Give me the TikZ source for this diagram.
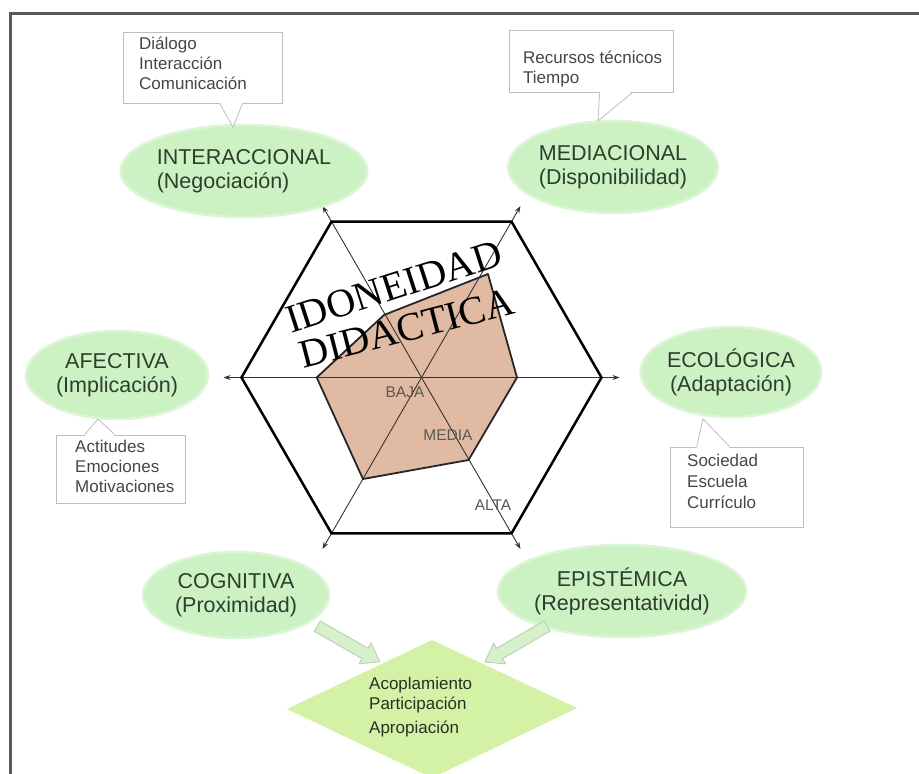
\documentclass[tikz,border=0pt]{standalone}
\usepackage{fontspec}
\setmainfont{Liberation Sans}
\newfontfamily\titlefont{Liberation Serif}
\usetikzlibrary{shapes.geometric,arrows.meta,calc}
\definecolor{ellgreen}{RGB}{204,242,196}
\definecolor{ellrim}{RGB}{220,245,214}
\definecolor{elltext}{RGB}{45,62,45}
\definecolor{dgreen}{RGB}{212,242,165}
\definecolor{boxgray}{RGB}{190,190,190}
\definecolor{txtgray}{RGB}{70,70,70}
\definecolor{peach}{RGB}{224,186,162}
\definecolor{framegray}{RGB}{90,90,90}
\definecolor{arrfill}{RGB}{214,240,204}
\definecolor{arrrim}{RGB}{178,208,170}
\tikzset{
  ell/.style={ellipse, fill=ellgreen, draw=ellrim, line width=2.5pt, inner sep=0pt,
    font=\fontsize{21.5}{24}\selectfont, text=elltext},
  cbox/.style={rectangle, draw=boxgray, line width=0.8pt, fill=white, inner sep=0pt},
  ctext/.style={anchor=north west, inner sep=0pt, align=left,
    font=\fontsize{17}{20}\selectfont, text=txtgray},
  axis/.style={line width=0.9pt, draw=black!80, -{Stealth[length=7pt,width=5pt]}},
  lvl/.style={font=\fontsize{15.5}{15.5}\selectfont, text=black!65, inner sep=0pt},
  ptr/.style={draw=boxgray, line width=0.8pt},
  blockarrow/.style={draw=arrrim, fill=arrfill, line width=0.8pt, line join=miter},
}
\begin{document}
\begin{tikzpicture}[x=1pt,y=-1pt]
\useasboundingbox (0,0) rectangle (919,774);
\fill[white] (0,0) rectangle (919,774);
% frame
\draw[framegray, line width=3pt] (10,774) -- (10,13) -- (919,13);

% radar centre
\coordinate (C) at (421.5,377.5);
% polygon of values
\coordinate (q1) at (316.7,377.5);
\coordinate (q2) at (384,315);
\coordinate (q3) at (488,274);
\coordinate (q4) at (517,377.5);
\coordinate (q5) at (468.5,460);
\coordinate (q6) at (363,479);
\fill[peach] (q1) -- (q2) -- (q3) -- (q4) -- (q5) -- (q6) -- cycle;

% axes
\foreach \a/\n in {0/e,60/se,120/sw,180/w,240/nw,300/ne}{
  \coordinate (ax\n) at ($(C)+(\a:198)$);
  \draw[axis] (C) -- (ax\n);
}
% polygon border
\draw[black!85, line width=1.8pt, line join=round] (q1) -- (q2) -- (q3) -- (q4) -- (q5) -- (q6) -- cycle;
% hexagon
\draw[black, line width=2.5pt, line join=miter]
  ($(C)+(0:180)$) -- ($(C)+(60:180)$) -- ($(C)+(120:180)$) -- ($(C)+(180:180)$)
  -- ($(C)+(240:180)$) -- ($(C)+(300:180)$) -- cycle;

% title
\node[anchor=base, rotate=18, inner sep=0pt, font=\titlefont\fontsize{40}{40}\selectfont] (tit1) at (398,299) {IDONEIDAD};
\node[anchor=base, rotate=14.5, inner sep=0pt, font=\titlefont\fontsize{40}{40}\selectfont] (tit2) at (410,341) {DIDACTICA};

% levels
\node[lvl] (baja) at (405,392) {BAJA};
\node[lvl] (media) at (448,435) {MEDIA};
\node[lvl] (alta) at (493,505) {ALTA};

% ellipses
\node[ell, minimum width=194pt, minimum height=92pt, align=left] (inter) at (244,171) {INTERACCIONAL\\(Negociación)};
\node[ell, minimum width=182pt, minimum height=92pt, align=center] (medi) at (613,167) {MEDIACIONAL\\(Disponibilidad)};
\node[ell, minimum width=182pt, minimum height=88pt, align=center] (afec) at (117,375) {AFECTIVA\\(Implicación)};
\node[ell, minimum width=180pt, minimum height=90pt, align=center] (ecol) at (731,372) {ECOLÓGICA\\(Adaptación)};
\node[ell, minimum width=186pt, minimum height=86pt, align=center] (cogn) at (236,595) {COGNITIVA\\(Proximidad)};
\node[ell, minimum width=213pt, minimum height=92pt, align=center] (epis) at (622,591) {EPISTÉMICA\\(Representatividd)};

% callout boxes
\node[cbox, minimum width=159pt, minimum height=71pt] (b1) at (202.5,67.5) {};
\node[cbox, minimum width=164pt, minimum height=62pt] (b2) at (591,61) {};
\node[cbox, minimum width=129pt, minimum height=68pt] (b3) at (120.5,469) {};
\node[cbox, minimum width=133pt, minimum height=80pt] (b4) at (736.5,487) {};

% pointers
\coordinate (k1) at (233,127);
\coordinate (k2) at (598,121);
\coordinate (k3) at (98,419);
\coordinate (k4) at (703,419);
\fill[white] ($(b1.south west)+(97,-1.5)$) -- (k1) -- ($(b1.south west)+(120,-1.5)$) -- cycle;
\draw[ptr] ($(b1.south west)+(97,0)$) -- (k1) -- ($(b1.south west)+(120,0)$);
\fill[white] ($(b2.south west)+(91,-1.5)$) -- (k2) -- ($(b2.south west)+(124,-1.5)$) -- cycle;
\draw[ptr] ($(b2.south west)+(91,0)$) -- (k2) -- ($(b2.south west)+(124,0)$);
\fill[white] ($(b3.north west)+(29,1.5)$) -- (k3) -- ($(b3.north west)+(59,1.5)$) -- cycle;
\draw[ptr] ($(b3.north west)+(29,0)$) -- (k3) -- ($(b3.north west)+(59,0)$);
\fill[white] ($(b4.north west)+(27,1.5)$) -- (k4) -- ($(b4.north west)+(60,1.5)$) -- cycle;
\draw[ptr] ($(b4.north west)+(27,0)$) -- (k4) -- ($(b4.north west)+(60,0)$);

% callout texts
\node[ctext] (t1) at (139,36.5) {Diálogo\\Interacción\\Comunicación};
\node[ctext] (t2) at (523,50.5) {Recursos técnicos\\Tiempo};
\node[ctext] (t3) at (75,439.5) {Actitudes\\Emociones\\Motivaciones};
\node[ctext, font=\fontsize{17}{21}\selectfont] (t4) at (687,453.5) {Sociedad\\Escuela\\Currículo};

% diamond
\coordinate (dL) at (287,709);
\coordinate (dT) at (432,640);
\coordinate (dR) at (577,708);
\coordinate (dB) at (432,778);
\fill[dgreen] (dL) -- (dT) -- (dR) -- (dB) -- cycle;
\node[ctext, text=elltext!80!black] (dtext) at (369,676.5) {Acoplamiento\\Participación\\[4pt]Apropiación};

% block arrows (from ellipses to diamond)
\coordinate (a1s) at (317,626);
\coordinate (a1e) at (380,662);
\coordinate (a2s) at (547,626);
\coordinate (a2e) at (485,662);
\begin{scope}[shift={($(a1s)!0.5!(a1e)$)}, rotate=-29.7]
  \draw[blockarrow] (-36,-6) -- (19,-6) -- (19,-12) -- (36,0) -- (19,12) -- (19,6) -- (-36,6) -- cycle;
\end{scope}
\begin{scope}[shift={($(a2s)!0.5!(a2e)$)}, rotate=-149.9]
  \draw[blockarrow] (-36,-6) -- (19,-6) -- (19,-12) -- (36,0) -- (19,12) -- (19,6) -- (-36,6) -- cycle;
\end{scope}
\end{tikzpicture}
\end{document}
